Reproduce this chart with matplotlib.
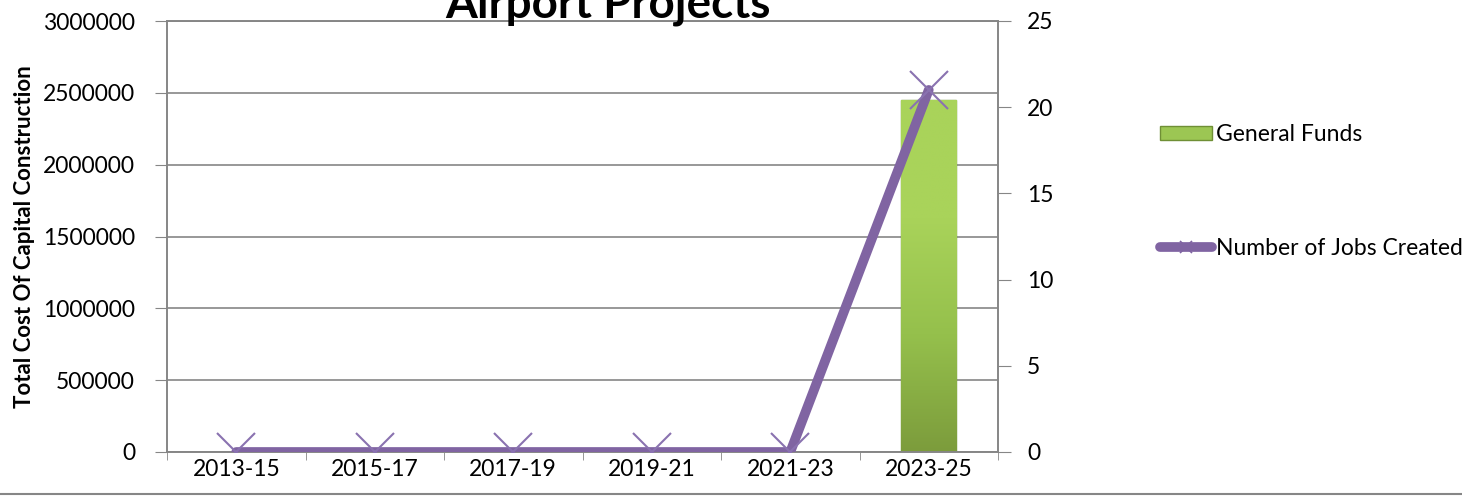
import matplotlib
matplotlib.use("Agg")
import matplotlib.pyplot as plt
from matplotlib.lines import Line2D
from matplotlib.patches import Patch
from matplotlib.colors import LinearSegmentedColormap
import numpy as np

categories = ["2013-15", "2015-17", "2017-19", "2019-21", "2021-23", "2023-25"]
general_funds = [0, 0, 0, 0, 0, 2450000]
jobs_created = [0, 0, 0, 0, 0, 21]
left_ticks = [0, 500000, 1000000, 1500000, 2000000, 2500000, 3000000]
right_ticks = [0, 5, 10, 15, 20, 25]

plt.rcParams['font.family'] = ['Lato', 'DejaVu Sans']
GRID = '#868686'
PURPLE = '#8064A2'
FS = 16.5

fig = plt.figure(figsize=(14.62, 5.01), dpi=100)
ax = fig.add_axes([167/1462, 1-452/501, (998-167)/1462, (452-21)/501])
x = np.arange(len(categories))

bars = ax.bar(x, general_funds, width=0.4, color='#9CC653', edgecolor='#6F8F35', linewidth=1.0, zorder=2)
grad = np.linspace(0, 1, 256).reshape(-1, 1)
cmap = LinearSegmentedColormap.from_list('g', ['#7C9C3C', '#95C04C', '#A9D35A', '#A9D35A'])
for b in bars:
    h = b.get_height()
    if h <= 0:
        continue
    bx, bw = b.get_x(), b.get_width()
    im = ax.imshow(grad, cmap=cmap, aspect='auto', extent=(bx, bx+bw, 0, h), origin='lower', zorder=2.1)
    im.set_clip_path(b)

ax.set_xlim(-0.5, len(categories)-0.5)
ax.set_ylim(0, 3000000)
ax.set_yticks(left_ticks)
ax.set_yticklabels([str(v) for v in left_ticks], fontsize=FS)
ax.set_xticks(x)
ax.set_xticklabels(categories, fontsize=FS)
ax.set_xticks(np.arange(-0.5, len(categories), 1.0), minor=True)
ax.tick_params(axis='x', which='major', length=0, pad=5)
ax.tick_params(axis='x', which='minor', length=6, color=GRID, direction='out')
ax.tick_params(axis='y', length=9, color=GRID, direction='out', pad=14)
ax.grid(axis='y', color=GRID, linewidth=1.2, zorder=0)
ax.set_axisbelow(True)
for s in ['left', 'bottom', 'right', 'top']:
    ax.spines[s].set_color(GRID)
    ax.spines[s].set_linewidth(1.2)

ax2 = ax.twinx()
ax2.set_ylim(0, 25)
ax2.set_yticks(right_ticks)
ax2.set_yticklabels([str(v) for v in right_ticks], fontsize=FS)
ax2.tick_params(axis='y', length=9, color=GRID, direction='out', pad=12)
for s in ['left', 'bottom', 'right', 'top']:
    ax2.spines[s].set_color(GRID)
    ax2.spines[s].set_linewidth(1.2)
ax2.plot(x, jobs_created, color=PURPLE, linewidth=7, solid_capstyle='round', zorder=3)
ax2.plot(x, jobs_created, linestyle='none', marker='x', markersize=27, markeredgewidth=1.5,
         color='#8A72B0', zorder=4)

fig.text(25/1462, 1-237/501, "Total Cost Of Capital Construction", fontsize=16, fontweight='bold',
         rotation=90, ha='center', va='center')
fig.text(608/1462, 1-17/501, "Airport Projects", fontsize=33, fontweight='bold', ha='center', va='baseline')

handles = [Patch(facecolor='#9CC653', edgecolor='#6F8F35'),
           Line2D([0], [0], color=PURPLE, linewidth=7, marker='x', markersize=8, markeredgewidth=1.2,
                  solid_capstyle='round')]
fig.legend(handles, ["General Funds", "Number of Jobs Created"], loc='upper left',
           bbox_to_anchor=(1160/1462, 1-124/501), frameon=False, fontsize=FS,
           borderaxespad=0, borderpad=0,
           labelspacing=4.05, handlelength=2.25, handletextpad=0.2, handleheight=0.6)

fig.add_artist(Line2D([0, 1], [1-494/501, 1-494/501], color=GRID, linewidth=1.5, transform=fig.transFigure))

fig.savefig("out.png", dpi=100)
